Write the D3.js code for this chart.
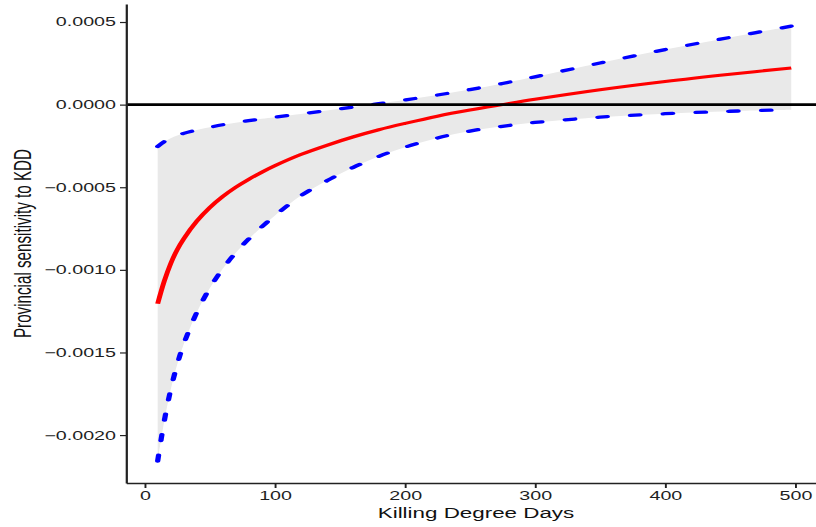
<!DOCTYPE html>
<html>
<head>
<meta charset="utf-8">
<script src="https://cdn.jsdelivr.net/npm/d3@7"></script>
<style>
  html, body { margin: 0; padding: 0; background: #fff; }
  svg { display: block; }
  text { font-family: "Liberation Sans", Arial, Helvetica, sans-serif; }
</style>
</head>
<body>
<svg id="chart" width="816" height="527"></svg>
<script>
// Killing degree days (x) and the estimated provincial sensitivity with its confidence band
const kdd = [10, 15, 20, 25, 30, 40, 50, 60, 70, 80, 90, 100, 120, 140, 160, 180, 200, 225, 250, 275, 300, 350, 400, 450, 497];
const estimate = [-0.001205, -0.001070, -0.000962, -0.000878, -0.000812, -0.000706, -0.000623, -0.000556, -0.000500, -0.000452, -0.000409, -0.000370, -0.000302, -0.000246, -0.000196, -0.000152, -0.000114, -0.000070, -0.000033, 0.000000, 0.000032, 0.000090, 0.000140, 0.000184, 0.000222];
const lower = [-0.002157, -0.001918, -0.001726, -0.001573, -0.001450, -0.001259, -0.001111, -0.000993, -0.000896, -0.000813, -0.000740, -0.000672, -0.000552, -0.000461, -0.000381, -0.000313, -0.000258, -0.000202, -0.000160, -0.000131, -0.000108, -0.000076, -0.000055, -0.000040, -0.000031];
const upper = [-0.000253, -0.000224, -0.000203, -0.000187, -0.000174, -0.000154, -0.000137, -0.000122, -0.000109, -0.000097, -0.000086, -0.000076, -0.000056, -0.000036, -0.000015, 0.000006, 0.000028, 0.000058, 0.000091, 0.000128, 0.000168, 0.000252, 0.000333, 0.000407, 0.000475];

const xTicks = [0, 100, 200, 300, 400, 500];
const yTicks = [0.0005, 0.0000, -0.0005, -0.0010, -0.0015, -0.0020];

const xTitle = "Killing Degree Days";
const yTitle = "Provincial sensitivity to KDD";

// The figure is laid out in a narrower space and widened horizontally as a whole.
const SX = 1.6;
const panel = { left: 126, right: 823, top: 4, bottom: 483 };

const rows = kdd.map((k, i) => ({ k, est: estimate[i], lo: lower[i], hi: upper[i] }));

const x = d3.scaleLinear().domain([-14.35, 521.4]).range([panel.left / SX, panel.right / SX]);
const y = d3.scaleLinear().domain([-0.00229, 0.000609]).range([panel.bottom, panel.top]);

const smooth = d3.curveCatmullRom.alpha(0.5);

const svg = d3.select("#chart");
const g = svg.append("g").attr("transform", `scale(${SX},1)`);

// confidence band
g.append("path")
  .datum(rows)
  .attr("fill", "#e9e9e9")
  .attr("d", d3.area().curve(smooth)
    .x(d => x(d.k)).y0(d => y(d.lo)).y1(d => y(d.hi)));

const dashed = { stroke: "#0000ff", width: 3.3, dash: "6,14.5" };
["lo", "hi"].forEach(key => {
  g.append("path")
    .datum(rows)
    .attr("fill", "none")
    .attr("stroke", dashed.stroke)
    .attr("stroke-width", dashed.width)
    .attr("stroke-dasharray", dashed.dash)
    .attr("stroke-linecap", "round")
    .attr("d", d3.line().curve(smooth).x(d => x(d.k)).y(d => y(d[key])));
});

// point estimate
g.append("path")
  .datum(rows)
  .attr("fill", "none")
  .attr("stroke", "#ff0000")
  .attr("stroke-width", 3.1)
  .attr("d", d3.line().curve(smooth).x(d => x(d.k)).y(d => y(d.est)));

// zero reference line
g.append("line")
  .attr("x1", x.range()[0]).attr("x2", x.range()[1])
  .attr("y1", y(0)).attr("y2", y(0))
  .attr("stroke", "#000").attr("stroke-width", 2.6);

// axes
const yAxis = g.append("g")
  .attr("transform", `translate(${x.range()[0]},0)`)
  .call(d3.axisLeft(y).tickValues(yTicks).tickFormat(d3.format(".4f"))
    .tickSize(3.75).tickSizeOuter(0).tickPadding(2.5));

const xAxis = g.append("g")
  .attr("transform", `translate(0,${panel.bottom})`)
  .call(d3.axisBottom(x).tickValues(xTicks).tickFormat(d3.format("d"))
    .tickSize(5).tickSizeOuter(0).tickPadding(3));

[yAxis, xAxis].forEach(ax => {
  ax.select(".domain").attr("stroke", "#222").attr("stroke-width", 1.4);
  ax.selectAll(".tick line").attr("stroke", "#222").attr("stroke-width", 1.2);
  ax.selectAll(".tick text")
    .attr("fill", "#1e1e1e")
    .style("font-size", "12.3px");
});

// axis titles
g.append("text")
  .attr("x", 476 / SX).attr("y", 518)
  .attr("text-anchor", "middle")
  .attr("fill", "#111")
  .style("font-size", "14px")
  .text(xTitle);

g.append("text")
  .attr("transform", `translate(${30.5 / SX},${(panel.top + panel.bottom) / 2}) rotate(-90)`)
  .attr("text-anchor", "middle")
  .attr("fill", "#111")
  .style("font-size", "15.2px")
  .text(yTitle);
</script>
</body>
</html>
